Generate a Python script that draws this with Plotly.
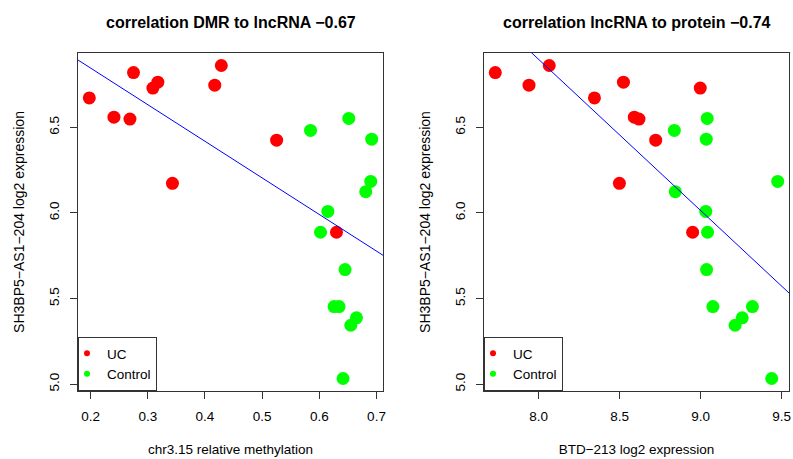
import numpy as np
import plotly.graph_objects as go

# ---- data ----
uc_lnc = [6.672, 6.559, 6.548, 6.820, 6.729, 6.764, 6.173, 6.746, 6.861, 6.425, 5.887]
uc_meth = [0.1977, 0.2408, 0.2688, 0.2750, 0.3089, 0.3176, 0.3431, 0.4171, 0.4286, 0.5253, 0.6300]
uc_btd = [8.344, 8.590, 8.619, 7.732, 8.997, 8.523, 8.498, 7.940, 8.065, 8.722, 8.950]

ctrl_lnc = [6.482, 6.552, 6.431, 6.184, 6.124, 6.009, 5.887, 5.669, 5.453, 5.453, 5.387, 5.344, 5.033]
ctrl_meth = [0.5846, 0.6515, 0.6916, 0.6899, 0.6812, 0.6149, 0.6021, 0.6450, 0.6258, 0.6345, 0.6649, 0.6550, 0.6415]
ctrl_btd = [8.837, 9.040, 9.034, 9.475, 8.843, 9.031, 9.042, 9.036, 9.075, 9.319, 9.256, 9.212, 9.438]

titles = ["correlation DMR to lncRNA \u22120.67", "correlation lncRNA to protein \u22120.74"]
x_titles = ["chr3.15 relative methylation", "BTD\u2212213 log2 expression"]
y_title = "SH3BP5\u2212AS1\u2212204 log2 expression"
x_ticks = [[0.2, 0.3, 0.4, 0.5, 0.6, 0.7], [8.0, 8.5, 9.0, 9.5]]
y_ticks = [5.0, 5.5, 6.0, 6.5]
groups = ["UC", "Control"]
colors = ["#FF0000", "#00FF00"]

W, H = 793, 459
ML, MR, MT, MB = 78, 4, 53, 68
PW = W - ML - MR
PH = H - MT - MB
FONT = "Liberation Sans, Arial, sans-serif"
AX = "#333333"


def r_range(vals):
    lo, hi = min(vals), max(vals)
    d = (hi - lo) * 0.04
    return [lo - d, hi + d]


fig = go.Figure()
all_y = uc_lnc + ctrl_lnc
yr = r_range(all_y)
domains = [[0, 305 / PW], [406 / PW, 1]]
panels = [(uc_meth, ctrl_meth), (uc_btd, ctrl_btd)]

for i, (ux, cx) in enumerate(panels):
    xa = "x" if i == 0 else "x2"
    ya = "y" if i == 0 else "y2"
    leg = "legend" if i == 0 else "legend2"
    for g, xs, ys, c in [(groups[0], ux, uc_lnc, colors[0]), (groups[1], cx, ctrl_lnc, colors[1])]:
        fig.add_trace(go.Scatter(x=xs, y=ys, mode="markers", xaxis=xa, yaxis=ya,
                                 marker=dict(color=c, size=13, line=dict(width=0)),
                                 showlegend=False, hoverinfo="x+y"))
    all_x = list(ux) + list(cx)
    xr = r_range(all_x)
    slope, icpt = np.polyfit(all_x, all_y, 1)
    lx = np.array(xr)
    fig.add_trace(go.Scatter(x=lx, y=icpt + slope * lx, mode="lines", xaxis=xa, yaxis=ya,
                             line=dict(color="#0000FF", width=1), showlegend=False,
                             hoverinfo="skip"))
    for g, c in zip(groups, colors):
        fig.add_trace(go.Scatter(x=[None], y=[None], mode="markers", xaxis=xa, yaxis=ya,
                                 marker=dict(color=c, size=6), name=g, legend=leg))
    axis_common = dict(showline=True, mirror=True, linecolor=AX, linewidth=1,
                       ticks="outside", ticklen=7, tickwidth=1, tickcolor=AX,
                       showgrid=False, zeroline=False, automargin=False,
                       tickfont=dict(family=FONT, size=13.5, color="#000"))
    fig.update_layout(**{
        ("xaxis" if i == 0 else "xaxis2"): dict(
            axis_common, domain=domains[i], range=xr, anchor=ya,
            tickvals=x_ticks[i], tickformat=".1f", ticklabelstandoff=6,
            title=dict(text=x_titles[i], standoff=21,
                       font=dict(family=FONT, size=13.5, color="#000"))),
        ("yaxis" if i == 0 else "yaxis2"): dict(
            axis_common, domain=[0, 1], range=yr, anchor=xa,
            tickvals=y_ticks, tickformat=".1f", tickangle=-90, ticklabelstandoff=6,
            title=dict(text=y_title, standoff=18,
                       font=dict(family=FONT, size=14, color="#000"))),
    })
    fig.add_annotation(text="<b>" + titles[i] + "</b>", xref="paper", yref="paper",
                       x=(domains[i][0] + domains[i][1]) / 2, y=1 + 31 / PH,
                       xanchor="center", yanchor="middle", showarrow=False,
                       font=dict(family=FONT, size=16, color="#000"))

leg_common = dict(xanchor="left", yanchor="bottom", y=0, bgcolor="white",
                  bordercolor=AX, borderwidth=1, itemwidth=30, indentation=-12,
                  font=dict(family=FONT, size=13.5, color="#000"))
fig.update_layout(
    width=W, height=H, margin=dict(l=ML, r=MR, t=MT, b=MB),
    paper_bgcolor="white", plot_bgcolor="white",
    legend=dict(leg_common, x=domains[0][0]),
    legend2=dict(leg_common, x=domains[1][0]),
)

fig.write_html("out.html", config={"displayModeBar": False},
               post_script="document.body.style.margin='0';document.body.style.overflow='hidden';")
